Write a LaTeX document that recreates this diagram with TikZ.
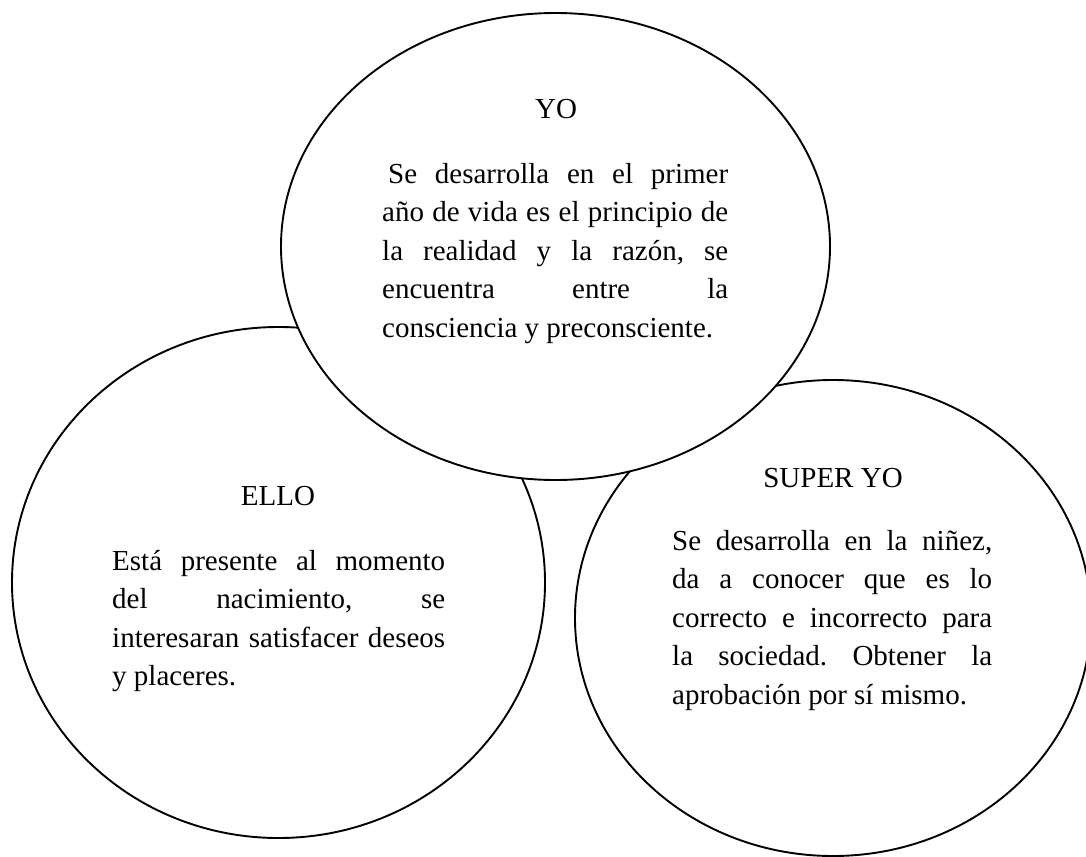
\documentclass[tikz,border=0pt]{standalone}
\usepackage{fontspec}
\setmainfont{Liberation Serif}
\usetikzlibrary{shapes.geometric}
\begin{document}
\begin{tikzpicture}[x=1pt,y=-1pt,
  circ/.style={ellipse, draw, line width=1.9pt, fill=white, inner sep=0pt},
  title/.style={font=\fontsize{29}{38.5}\selectfont, anchor=base, inner sep=0pt},
  body/.style={font=\fontsize{29}{38.5}\selectfont\frenchspacing, align=justify, anchor=base west, inner sep=0pt}]
\useasboundingbox (0,0) rectangle (1086,856);
\clip (0,0) rectangle (1086,856);
\node[circ, minimum width=533pt, minimum height=511pt] (ello) at (278.5,582.5) {};
\node[circ, minimum width=516pt, minimum height=476pt] (super) at (833,618) {};
\node[circ, minimum width=549pt, minimum height=467pt] (yo) at (555.5,246.5) {};
\node[title] (yot) at (556,119) {YO};
\node[body, text width=346pt] (yob) at (382,183) {\tolerance=10000 \hspace*{6pt}Se desarrolla en el primer\linebreak año de vida es el principio de\linebreak la realidad y la razón, se\linebreak encuentra entre la\linebreak consciencia y preconsciente.};
\node[title] (ellot) at (278,505) {ELLO};
\node[body, text width=333pt] (ellob) at (112,570) {\tolerance=10000 Está presente al momento\linebreak del nacimiento, se\linebreak interesaran satisfacer deseos\linebreak y placeres.};
\node[title] (supt) at (833,487) {SUPER YO};
\node[body, text width=320pt] (supb) at (672,550) {\tolerance=10000 Se desarrolla en la niñez,\linebreak da a conocer que es lo\linebreak correcto e incorrecto para\linebreak la sociedad. Obtener la\linebreak aprobación por sí mismo.};
\end{tikzpicture}
\end{document}
